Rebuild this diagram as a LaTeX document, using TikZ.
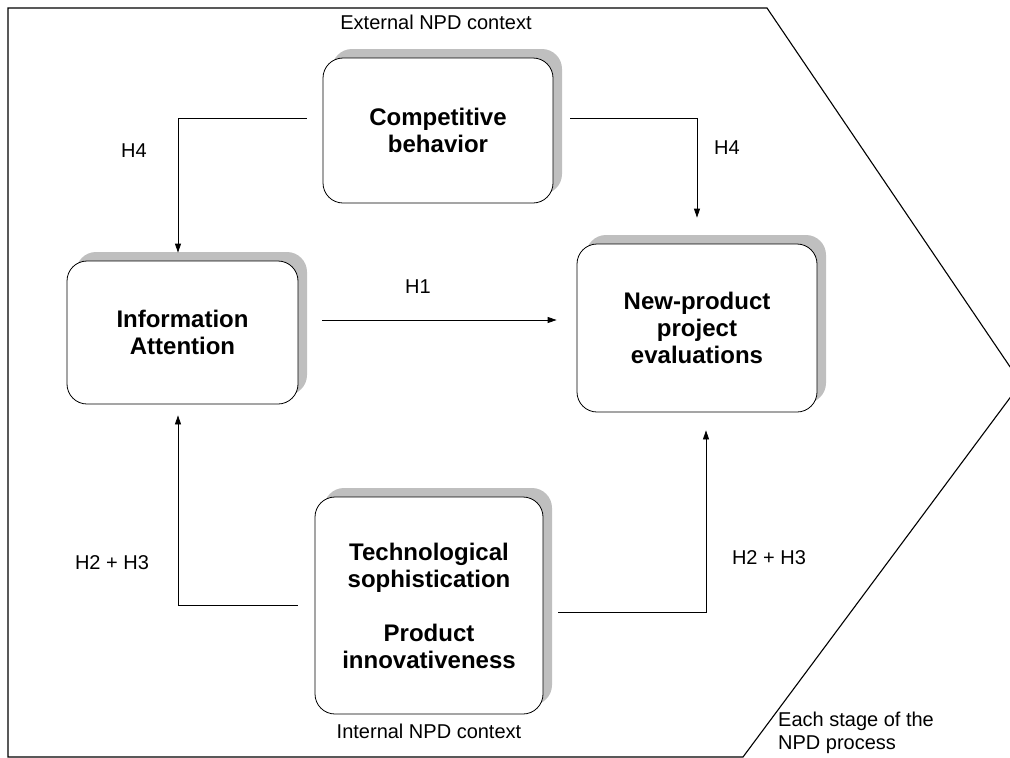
\documentclass[tikz,border=0pt]{standalone}
\usepackage{fontspec}
\setmainfont{Liberation Sans}
\usetikzlibrary{shadows,calc,arrows.meta}
\begin{document}
\begin{tikzpicture}[x=1pt,y=-1pt,
  box/.style={draw, line width=0.8pt, rounded corners=20pt, fill=white, align=center, inner sep=0pt,
    font=\fontsize{24}{27}\selectfont\bfseries,
    drop shadow={shadow xshift=9pt, shadow yshift=9pt, fill=black!25, opacity=1}},
  lbl/.style={font=\fontsize{20}{23}\selectfont, inner sep=0pt},
  arr/.style={line width=0.8pt, -{Triangle[length=9pt,width=6pt]}}]
\useasboundingbox (0,0) rectangle (1010,758);
\clip (0,0) rectangle (1010,758);
% frame (chevron)
\draw[line width=1.1pt, line join=miter] (8,8) -- (767,8) -- (1021,383) -- (743,757) -- (8,757) -- cycle;
% boxes
\node[box, minimum width=230pt, minimum height=145pt] (comp) at (438,130.5) {Competitive\\behavior};
\node[box, minimum width=231pt, minimum height=143pt] (info) at (182.5,332.5) {Information\\Attention};
\node[box, minimum width=240pt, minimum height=168pt] (np) at (697,328) {New-product\\project\\evaluations};
\node[box, minimum width=228pt, minimum height=217pt] (tech) at (429,605.5) {Technological\\sophistication\\[27pt]Product\\innovativeness};
% connectors
\coordinate (a1s) at ($(comp.west)+(-16,-12.5)$);
\coordinate (a2s) at ($(comp.east)+(17,-12.5)$);
\coordinate (a3s) at ($(info.east)+(24,-12.5)$);
\coordinate (a3e) at ($(np.west)+(-20,-8)$);
\coordinate (a4s) at ($(tech.west)+(-17,-0.5)$);
\coordinate (a5s) at ($(tech.east)+(15,6.5)$);
\draw[arr] (a1s) -| ([xshift=-4.5pt, yshift=8pt]info.north);
\draw[arr] (a2s) -| ([yshift=26pt]np.north);
\draw[arr] (a3s) -- (a3e);
\draw[arr] (a4s) -| ([xshift=-4.5pt, yshift=-11pt]info.south);
\draw[arr] (a5s) -| ([xshift=9pt, yshift=-18pt]np.south);
% labels
\node[lbl] (ext) at (436,22) {External NPD context};
\node[lbl] (int) at (429,731) {Internal NPD context};
\node[lbl] (h4l) at (134,151) {H4};
\node[lbl] (h4r) at (727,148) {H4};
\node[lbl] (h1) at (418,287) {H1};
\node[lbl] (h23l) at (112,563) {H2 + H3};
\node[lbl] (h23r) at (769,558) {H2 + H3};
\node[lbl, anchor=north west, align=left] (stage) at (778,712) {Each stage of the\\NPD process};
\end{tikzpicture}
\end{document}
